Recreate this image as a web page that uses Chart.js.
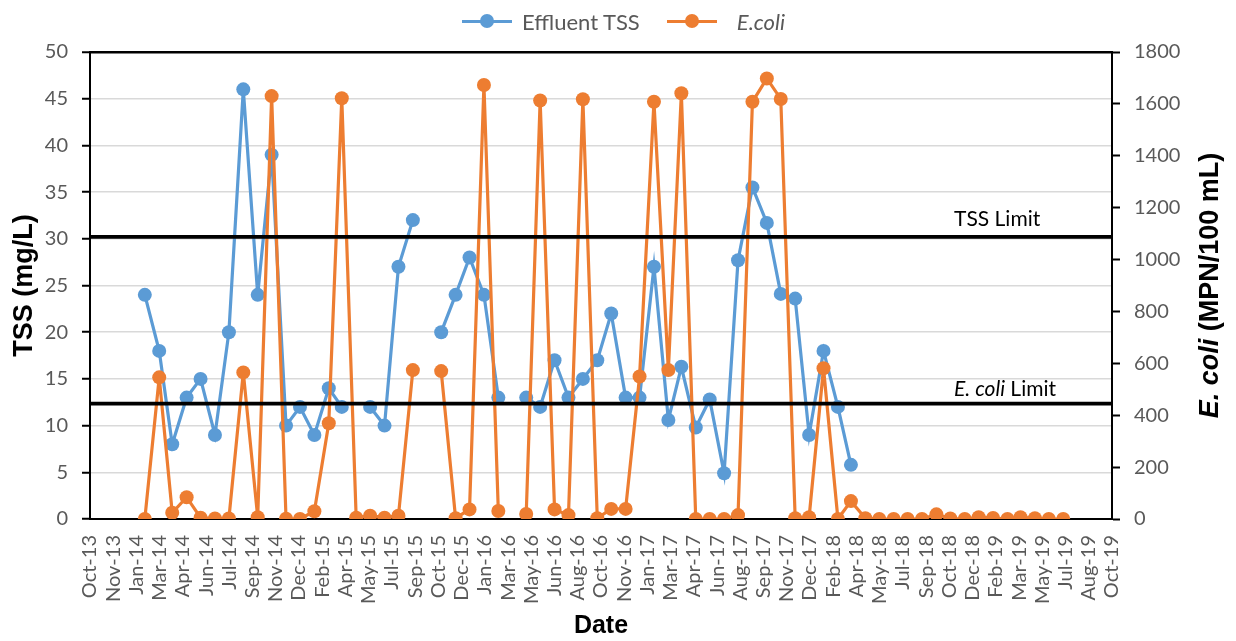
<!DOCTYPE html>
<html>
<head>
<meta charset="utf-8">
<script src="https://cdn.jsdelivr.net/npm/chart.js@4.4.1/dist/chart.umd.min.js"></script>
<style>
  html, body { margin: 0; padding: 0; background: #fff; }
  #wrap { position: relative; width: 1236px; height: 641px; }
  #legend { position: absolute; top: 6px; left: 462px; display: flex; align-items: center;
            font-family: Lato, "Open Sans", sans-serif; font-size: 22px; color: #595959; }
  .item { display: flex; align-items: center; margin-right: 27px; }
  .mark { position: relative; width: 50px; height: 30px; margin-right: 10px; }
  .mark::before { content: ""; position: absolute; left: 0; right: 0; top: 13.5px; height: 3.5px; background: var(--c); }
  .mark::after { content: ""; position: absolute; left: 18px; top: 8px; width: 14px; height: 14px; border-radius: 50%; background: var(--c); }
</style>
</head>
<body>
<div id="wrap">
  <canvas id="chart" width="1236" height="641"></canvas>
  <div id="legend">
    <div class="item"><span class="mark" style="--c:#5b9bd5"></span><span>Effluent TSS</span></div>
    <div class="item"><span class="mark" style="--c:#ed7d31"></span><span style="font-style:italic;margin-left:10px">E.coli</span></div>
  </div>
</div>
<script>
// monthly sampling dates
const sampleDates = [
  "2014-01-28", "2014-02-28", "2014-03-28", "2014-04-28", "2014-05-28", "2014-06-28",
  "2014-07-28", "2014-08-28", "2014-09-28", "2014-10-28", "2014-11-28", "2014-12-28",
  "2015-01-28", "2015-02-28", "2015-03-28", "2015-04-28", "2015-05-28", "2015-06-28",
  "2015-07-28", "2015-08-28", "2015-09-28", "2015-10-28", "2015-11-28", "2015-12-28",
  "2016-01-28", "2016-02-28", "2016-03-28", "2016-04-28", "2016-05-28", "2016-06-28",
  "2016-07-28", "2016-08-28", "2016-09-28", "2016-10-28", "2016-11-28", "2016-12-28",
  "2017-01-28", "2017-02-28", "2017-03-28", "2017-04-28", "2017-05-28", "2017-06-28",
  "2017-07-28", "2017-08-28", "2017-09-28", "2017-10-28", "2017-11-28", "2017-12-28",
  "2018-01-28", "2018-02-28", "2018-03-28", "2018-04-28", "2018-05-28", "2018-06-28",
  "2018-07-28", "2018-08-28", "2018-09-28", "2018-10-28", "2018-11-28", "2018-12-28",
  "2019-01-28", "2019-02-28", "2019-03-28", "2019-04-28", "2019-05-28", "2019-06-28",
];

// mg/L, null = no sample
const tssValues = [
  24, 18, 8, 13, 15, 9, 20, 46, 24, 39, 10, 12,
  9, 14, 12, null, 12, 10, 27, 32, null, 20, 24, 28,
  24, 13, null, 13, 12, 17, 13, 15, 17, 22, 13, 13,
  27, 10.6, 16.3, 9.8, 12.8, 4.9, 27.7, 35.5, 31.7, 24.1, 23.6, 9,
  18, 12, 5.8, null, null, null, null, null, null, null, null, null,
  null, null, null, null, null, null,
];

// MPN/100 mL
const ecoliValues = [
  0, 546, 24, 84, 5, 2, 2, 565, 7, 1630, 1, 0,
  30, 369, 1622, 5, 13, 5, 13, 574, null, 570, 3, 37,
  1673, 31, null, 19, 1613, 37, 15, 1618, 3, 39, 39, 549,
  1608, 574, 1641, 0, 0, 0, 15, 1608, 1698, 1619, 3, 7,
  581, 0, 69, 3, 0, 0, 0, 0, 18, 2, 0, 7,
  4, 0, 7, 3, 0, 0,
];

const tssLimit = 30.2;
const ecoliLimit = 445;

// date axis: one tick every 50 days from 2 Oct 2013
const axisStart = "2013-10-02";
const tickStep = 50;
const tickLabels = [
  "Oct-13", "Nov-13", "Jan-14", "Mar-14", "Apr-14", "Jun-14", "Jul-14", "Sep-14", "Nov-14",
  "Dec-14", "Feb-15", "Apr-15", "May-15", "Jul-15", "Sep-15", "Oct-15", "Dec-15", "Jan-16",
  "Mar-16", "May-16", "Jun-16", "Aug-16", "Oct-16", "Nov-16", "Jan-17", "Mar-17", "Apr-17",
  "Jun-17", "Aug-17", "Sep-17", "Nov-17", "Dec-17", "Feb-18", "Apr-18", "May-18", "Jul-18",
  "Sep-18", "Oct-18", "Dec-18", "Feb-19", "Mar-19", "May-19", "Jul-19", "Aug-19", "Oct-19",
];

const colors = {
  tss: "#5b9bd5",
  ecoli: "#ed7d31",
  text: "#595959",
  grid: "#d9d9d9",
};

const dayOf = (d) => (Date.parse(d) - Date.parse(axisStart)) / 86400000;
const series = (vals) => sampleDates.map((d, i) => ({ x: dayOf(d), y: vals[i] }));
const xMax = tickStep * (tickLabels.length - 1);

const tickFont = { family: "Lato", size: 20 };
const titleFont = { family: "Liberation Sans", size: 27, weight: "bold" };

// right axis title (mixed italic) and limit labels
const annotations = {
  id: "annotations",
  afterDraw(chart) {
    const { ctx, chartArea, scales } = chart;
    ctx.save();
    ctx.fillStyle = "#000";
    ctx.textBaseline = "alphabetic";

    const labelX = scales.x.getPixelForValue(1860);
    ctx.font = "21px Lato";
    ctx.fillText("TSS Limit", labelX, scales.y.getPixelForValue(tssLimit) - 11);

    const ey = scales.y1.getPixelForValue(ecoliLimit) - 8;
    ctx.font = "italic 21px Lato";
    const w1 = ctx.measureText("E. coli").width;
    ctx.fillText("E. coli", labelX, ey);
    ctx.font = "21px Lato";
    ctx.fillText(" Limit", labelX + w1, ey);

    // right title
    const a = "E. coli";
    const b = " (MPN/100 mL)";
    ctx.font = "italic bold 27px 'Liberation Sans'";
    const wa = ctx.measureText(a).width;
    ctx.font = "bold 27px 'Liberation Sans'";
    const wb = ctx.measureText(b).width;
    ctx.translate(1211, (chartArea.top + chartArea.bottom) / 2);
    ctx.rotate(-Math.PI / 2);
    ctx.textBaseline = "middle";
    const start = -(wa + wb) / 2;
    ctx.font = "italic bold 27px 'Liberation Sans'";
    ctx.fillText(a, start, 0);
    ctx.font = "bold 27px 'Liberation Sans'";
    ctx.fillText(b, start + wa, 0);
    ctx.restore();
  },
};

new Chart(document.getElementById("chart"), {
  type: "line",
  data: {
    datasets: [
      {
        label: "TSS Limit",
        data: [{ x: 0, y: tssLimit }, { x: xMax, y: tssLimit }],
        yAxisID: "y",
        borderColor: "#000",
        borderWidth: 3.8,
        pointRadius: 0,
        order: 0,
      },
      {
        label: "E. coli Limit",
        data: [{ x: 0, y: ecoliLimit }, { x: xMax, y: ecoliLimit }],
        yAxisID: "y1",
        borderColor: "#000",
        borderWidth: 3.8,
        pointRadius: 0,
        order: 0,
      },
      {
        label: "E.coli",
        data: series(ecoliValues),
        yAxisID: "y1",
        borderColor: colors.ecoli,
        backgroundColor: colors.ecoli,
        pointBackgroundColor: colors.ecoli,
        pointBorderWidth: 0,
        pointRadius: 7,
        borderWidth: 3.2,
        spanGaps: false,
        order: 1,
      },
      {
        label: "Effluent TSS",
        data: series(tssValues),
        yAxisID: "y",
        borderColor: colors.tss,
        backgroundColor: colors.tss,
        pointBackgroundColor: colors.tss,
        pointBorderWidth: 0,
        pointRadius: 7,
        borderWidth: 3.2,
        spanGaps: false,
        order: 2,
      },
    ],
  },
  options: {
    responsive: false,
    animation: false,
    layout: { padding: { top: 52, left: 0, right: 0, bottom: 0 } },
    plugins: {
      legend: { display: false },
      tooltip: { enabled: false },
    },
    scales: {
      x: {
        type: "linear",
        min: 0,
        max: xMax,
        afterFit(scale) { scale.height = 122; },
        ticks: {
          stepSize: tickStep,
          autoSkip: false,
          maxTicksLimit: 100,
          minRotation: 90,
          maxRotation: 90,
          padding: 16,
          color: colors.text,
          font: tickFont,
          callback(value) {
            return tickLabels[Math.round(value / tickStep)];
          },
        },
        grid: { display: false, drawTicks: false },
        border: { display: true, color: "#000", width: 2 },
        title: {
          display: true,
          text: "Date",
          color: "#000",
          font: { family: "Liberation Sans", size: 25, weight: "bold", lineHeight: 1.2 },
          padding: { top: 0, bottom: 0 },
        },
      },
      y: {
        position: "left",
        min: 0,
        max: 50,
        afterFit(scale) { scale.width = 90; },
        ticks: { stepSize: 5, padding: 14, color: colors.text, font: tickFont },
        grid: {
          color: (c) => (c.tick && c.tick.value === 50 ? "#000" : colors.grid),
          lineWidth: (c) => (c.tick && c.tick.value === 50 ? 2.5 : 1.5),
          tickColor: "#000",
          tickLength: 8,
          tickWidth: 2,
        },
        border: { color: "#000", width: 2 },
        title: {
          display: true,
          text: "TSS (mg/L)",
          color: "#000",
          font: titleFont,
          padding: { top: 8, bottom: 0 },
        },
      },
      y1: {
        position: "right",
        min: 0,
        max: 1800,
        afterFit(scale) { scale.width = 124; },
        ticks: {
          stepSize: 200,
          padding: 14,
          color: colors.text,
          font: tickFont,
          callback: (value) => String(value),
        },
        grid: {
          drawOnChartArea: false,
          tickColor: "#000",
          tickLength: 8,
          tickWidth: 2,
        },
        border: { color: "#000", width: 2 },
      },
    },
  },
  plugins: [annotations],
});
</script>
</body>
</html>
